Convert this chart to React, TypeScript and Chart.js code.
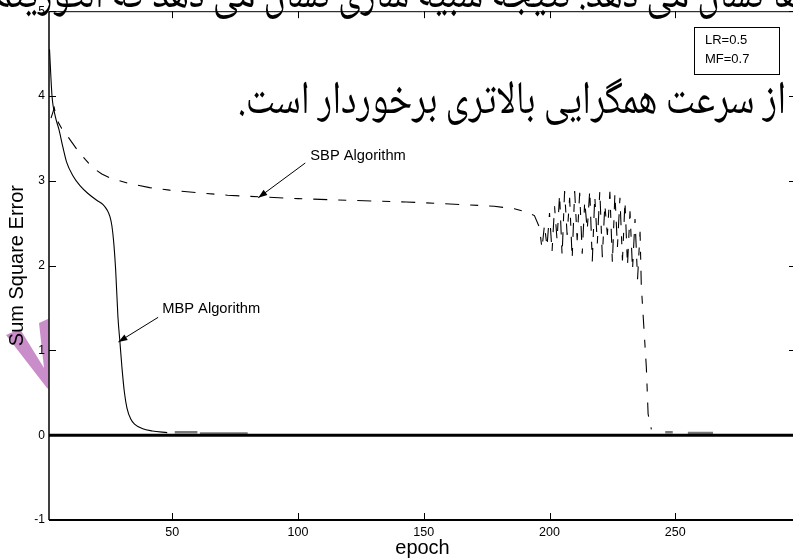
import React, { useEffect, useRef } from "react";
import { Chart, registerables } from "chart.js";

Chart.register(...registerables);

// ---- data ----
const mbpEpochs = [1.2, 2.2, 3.5, 5, 6.5, 8, 10.5, 13.4, 16.5, 20, 22.5, 24, 25.2, 26, 26.8, 27.5, 28.4, 29.2, 30, 31, 32, 33.5, 35, 38, 42, 48];
const mbpError = [4.55, 4.0, 3.76, 3.6, 3.4, 3.22, 3.06, 2.94, 2.85, 2.77, 2.72, 2.66, 2.58, 2.47, 2.25, 1.95, 1.4, 1.1, 0.8, 0.5, 0.32, 0.19, 0.13, 0.08, 0.05, 0.03];

const sbpEpochs = [
  1.8, 3.1, 4.1, 6, 8.5, 12.6, 15.5, 18.6, 22, 25.5, 32.5, 41, 49, 60, 72, 85, 100, 120, 143, 165, 178, 186, 190, 194, 196,
  197, 198, 199, 200, 201, 202, 203, 204, 205, 206, 207, 208, 209, 210, 211, 212, 213, 214, 215, 216, 217, 218, 219, 220,
  221, 222, 223, 224, 225, 226, 227, 228, 229, 230, 231, 232, 233, 234, 235, 236, 236.5, 238.5, 239.2, 240.5,
];
const sbpError = [
  3.74, 3.86, 3.72, 3.62, 3.52, 3.35, 3.25, 3.15, 3.08, 3.03, 2.97, 2.92, 2.89, 2.86, 2.83, 2.81, 2.79, 2.77, 2.75, 2.72, 2.7, 2.67, 2.64, 2.59, 2.45,
  2.2, 2.48, 2.22, 2.62, 2.16, 2.7, 2.3, 2.84, 2.12, 2.88, 2.36, 2.8, 2.08, 2.88, 2.3, 2.86, 2.14, 2.76, 2.42, 2.89, 2.05, 2.82, 2.26, 2.88,
  2.1, 2.72, 2.36, 2.87, 2.03, 2.85, 2.22, 2.8, 2.06, 2.76, 2.0, 2.64, 1.95, 2.55, 1.84, 2.4, 1.76, 0.8, 0.25, 0.07,
];

const tailEpochs = [51, 60, 60.5, 61, 80, 150, 246, 249, 250, 255, 265];
const tailError = [0.035, 0.035, null, 0.02, 0.02, null, 0.035, 0.035, null, 0.025, 0.025];

const zeroEpochs = [1, 298];
const zeroError = [0, 0];

const xTickValues = [50, 100, 150, 200, 250];
const yTickValues = [-1, 0, 1, 2, 3, 4, 5];

const X_MIN = 1;
const X_MAX = 298;
const Y_MIN = -1;
const Y_MAX = 5;

const paramLines = ["LR=0.5", "MF=0.7"];
const persianTop = "ها نشان می دهد. نتیجه شبیه سازی نشان می دهد که الگوریتم ۱";
const persianLine = "از سرعت همگرایی بالاتری برخوردار است.";

const sbpLabel = "SBP Algorithm";
const mbpLabel = "MBP Algorithm";

const SANS = '"Liberation Sans", Arial, Helvetica, sans-serif';
const NARROW = '"Liberation Sans Narrow", "Liberation Sans", Arial, sans-serif';

function pts(xs: number[], ys: (number | null)[]) {
  return xs.map((x, i) => ({ x, y: ys[i] }));
}

function arrow(ctx: CanvasRenderingContext2D, x1: number, y1: number, x2: number, y2: number) {
  ctx.beginPath();
  ctx.moveTo(x1, y1);
  ctx.lineTo(x2, y2);
  ctx.stroke();
  const a = Math.atan2(y2 - y1, x2 - x1);
  const len = 9;
  const hw = 3.2;
  const bx = x2 - len * Math.cos(a);
  const by = y2 - len * Math.sin(a);
  ctx.beginPath();
  ctx.moveTo(x2, y2);
  ctx.lineTo(bx + hw * Math.sin(a), by - hw * Math.cos(a));
  ctx.lineTo(bx - hw * Math.sin(a), by + hw * Math.cos(a));
  ctx.closePath();
  ctx.fill();
}

function fitText(ctx: CanvasRenderingContext2D, text: string, family: string, target: number) {
  ctx.font = `30px ${family}`;
  const w = ctx.measureText(text).width || 1;
  return (30 * target) / w;
}

const decorPlugin = {
  id: "decor",
  beforeDraw(chart: any) {
    // purple watermark fragment left of the axis
    const ctx = chart.ctx as CanvasRenderingContext2D;
    ctx.save();
    ctx.beginPath();
    ctx.rect(0, 0, chart.chartArea.left - 0.5, chart.height);
    ctx.clip();
    ctx.fillStyle = "#c98ec9";
    ctx.beginPath();
    ctx.moveTo(6, 335);
    ctx.lineTo(20, 329);
    ctx.lineTo(44, 368);
    ctx.lineTo(39, 323);
    ctx.lineTo(50, 318);
    ctx.lineTo(50, 390);
    ctx.lineTo(47, 388);
    ctx.closePath();
    ctx.fill();
    ctx.restore();
  },
  afterDraw(chart: any) {
    const ctx = chart.ctx as CanvasRenderingContext2D;
    const xs = chart.scales.x;
    const ys = chart.scales.y;
    const { left, right, top, bottom } = chart.chartArea;
    const P = (x: number, y: number) => [xs.getPixelForValue(x), ys.getPixelForValue(y)];
    ctx.save();
    ctx.strokeStyle = "#000";
    ctx.fillStyle = "#000";

    // frame
    ctx.lineWidth = 1;
    ctx.beginPath();
    ctx.moveTo(left, top + 0.5);
    ctx.lineTo(right, top + 0.5);
    ctx.moveTo(right - 0.5, top);
    ctx.lineTo(right - 0.5, bottom);
    ctx.stroke();
    ctx.lineWidth = 1.5;
    ctx.beginPath();
    ctx.moveTo(left, top);
    ctx.lineTo(left, bottom);
    ctx.stroke();
    ctx.lineWidth = 2;
    ctx.beginPath();
    ctx.moveTo(left, bottom);
    ctx.lineTo(right, bottom);
    ctx.stroke();

    // inward ticks
    ctx.lineWidth = 1;
    const tl = 7;
    ctx.beginPath();
    xTickValues.forEach((v) => {
      const x = Math.round(xs.getPixelForValue(v)) + 0.5;
      ctx.moveTo(x, bottom);
      ctx.lineTo(x, bottom - tl);
      ctx.moveTo(x, top);
      ctx.lineTo(x, top + tl);
    });
    yTickValues.forEach((v) => {
      const y = Math.round(ys.getPixelForValue(v)) + 0.5;
      ctx.moveTo(left, y);
      ctx.lineTo(left + tl, y);
      ctx.moveTo(right, y);
      ctx.lineTo(right - tl, y);
    });
    ctx.stroke();

    // parameter box
    const [bx1, by1] = P(257.6, 4.81);
    const [bx2, by2] = P(291.3, 4.26);
    ctx.fillStyle = "#fff";
    ctx.fillRect(bx1, by1, bx2 - bx1, by2 - by1);
    ctx.strokeRect(Math.round(bx1) + 0.5, Math.round(by1) + 0.5, Math.round(bx2 - bx1), Math.round(by2 - by1));
    ctx.fillStyle = "#000";
    ctx.font = `13px ${SANS}`;
    ctx.textAlign = "left";
    ctx.textBaseline = "middle";
    const [tx] = P(261.8, 0);
    ctx.fillText(paramLines[0], tx, ys.getPixelForValue(4.65));
    ctx.fillText(paramLines[1], tx, ys.getPixelForValue(4.43));

    // annotations
    ctx.font = `14.7px ${SANS}`;
    ctx.textBaseline = "alphabetic";
    const [sx, sy] = P(104.9, 3.24);
    ctx.fillText(sbpLabel, sx, sy);
    const [mx, my] = P(46, 1.44);
    ctx.fillText(mbpLabel, mx, my);
    ctx.lineWidth = 1;
    const [a1x, a1y] = P(102.9, 3.21);
    const [a2x, a2y] = P(84.2, 2.8);
    arrow(ctx, a1x, a1y, a2x, a2y);
    const [b1x, b1y] = P(44.4, 1.39);
    const [b2x, b2y] = P(28.6, 1.1);
    arrow(ctx, b1x, b1y, b2x, b2y);

    // Persian text overlaid from the source page
    const fam = '"Noto Naskh Arabic", "Times New Roman", "DejaVu Serif", serif';
    (ctx as any).direction = "rtl";
    ctx.textAlign = "right";
    ctx.textBaseline = "alphabetic";
    const s2 = fitText(ctx, persianLine, fam, 548);
    ctx.font = `${s2}px ${fam}`;
    ctx.save();
    ctx.translate(786, 113);
    ctx.scale(1, 1.25);
    ctx.fillText(persianLine, 0, 0);
    ctx.restore();
    ctx.save();
    ctx.translate(800, 7);
    ctx.scale(1, 1.25);
    ctx.fillText(persianTop, 0, 0);
    ctx.restore();
    ctx.restore();
  },
};

export default function App() {
  const ref = useRef<HTMLCanvasElement>(null);

  useEffect(() => {
    const canvas = ref.current!;
    const chart = new Chart(canvas, {
      type: "line",
      data: {
        datasets: [
          {
            label: "zero",
            data: pts(zeroEpochs, zeroError),
            borderColor: "#000",
            borderWidth: 3,
            pointRadius: 0,
          },
          {
            label: "MBP Algorithm",
            data: pts(mbpEpochs, mbpError),
            borderColor: "#000",
            borderWidth: 1.1,
            pointRadius: 0,
            cubicInterpolationMode: "monotone",
          },
          {
            label: "SBP Algorithm",
            data: pts(sbpEpochs, sbpError),
            borderColor: "#000",
            borderWidth: 1.1,
            borderDash: [14, 11, 8, 11],
            pointRadius: 0,
            tension: 0,
          },
          {
            label: "tail",
            data: pts(tailEpochs, tailError),
            borderColor: "#7a7a7a",
            borderWidth: 2.5,
            pointRadius: 0,
            spanGaps: false,
          },
        ],
      },
      options: {
        responsive: false,
        animation: false,
        devicePixelRatio: 1,
        layout: { padding: { left: 0, top: 8, right: 1, bottom: 0 } },
        plugins: { legend: { display: false }, tooltip: { enabled: false } },
        events: [],
        scales: {
          x: {
            type: "linear",
            min: X_MIN,
            max: X_MAX,
            grid: { display: false, drawTicks: false },
            border: { display: false },
            afterBuildTicks: (s: any) => {
              s.ticks = xTickValues.map((v) => ({ value: v }));
            },
            afterFit: (s: any) => {
              s.height = 40;
            },
            ticks: {
              color: "#000",
              padding: 5,
              maxRotation: 0,
              autoSkip: false,
              font: { family: NARROW, size: 12.5 },
            },
            title: {
              display: true,
              text: "epoch",
              color: "#000",
              font: { family: SANS, size: 20 },
              padding: { top: 0, bottom: 0 },
            },
          },
          y: {
            type: "linear",
            min: Y_MIN,
            max: Y_MAX,
            grid: { display: false, drawTicks: false },
            border: { display: false },
            afterBuildTicks: (s: any) => {
              s.ticks = yTickValues.map((v) => ({ value: v }));
            },
            afterFit: (s: any) => {
              s.width = 49;
            },
            ticks: {
              color: "#000",
              padding: 4,
              autoSkip: false,
              font: { family: NARROW, size: 12 },
            },
            title: {
              display: true,
              text: "Sum Square Error",
              color: "#000",
              font: { family: SANS, size: 20 },
              padding: { top: 5, bottom: 0 },
            },
          },
        },
      },
      plugins: [decorPlugin],
    } as any);
    return () => chart.destroy();
  }, []);

  return (
    <div
      style={{
        position: "fixed",
        left: 0,
        top: 0,
        width: 793,
        height: 560,
        overflow: "hidden",
        background: "#fff",
      }}
    >
      <canvas ref={ref} width={797} height={560} style={{ display: "block", width: 797, height: 560 }} />
    </div>
  );
}
